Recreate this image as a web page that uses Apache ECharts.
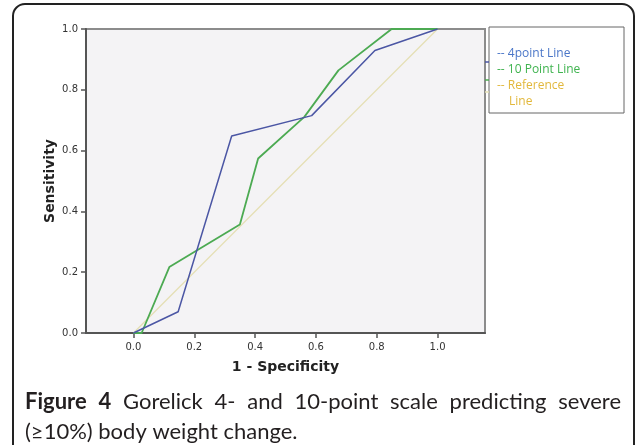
<!DOCTYPE html>
<html><head><meta charset="utf-8">
<script src="https://cdn.jsdelivr.net/npm/echarts@6/dist/echarts.min.js"></script>
<style>html,body{margin:0;padding:0;background:#fff}#c{width:635px;height:445px}</style>
</head><body><div id="c"></div><script>
// ---- data ----
const xTicks = [0.0, 0.2, 0.4, 0.6, 0.8, 1.0];
const yTicks = [0.0, 0.2, 0.4, 0.6, 0.8, 1.0];
const seriesNames = ['4point Line', '10 Point Line', 'Reference Line'];
const fourPointFPR = [0.0, 0.147, 0.323, 0.586, 0.794, 1.0];
const fourPointTPR = [0.0, 0.070, 0.648, 0.715, 0.929, 1.0];
const tenPointFPR = [0.0, 0.027, 0.118, 0.350, 0.410, 0.562, 0.674, 0.849, 1.0];
const tenPointTPR = [0.0, 0.0, 0.217, 0.357, 0.574, 0.711, 0.864, 1.0, 1.0];
const refFPR = [0.0, 1.0];
const refTPR = [0.0, 1.0];
const captionBold = 'Figure 4';
const captionLine1 = 'Gorelick 4- and 10-point scale predicting severe';
const captionLine2 = '(\u226510%) body weight change.';

const zip = (a, b) => a.map((v, i) => [v, b[i]]);
const lineColors = ['#4b56a4', '#4caa52', '#e4dfb4'];
const legendColors = ['#4a76c8', '#3fb34f', '#e2b83c'];

const chart = echarts.init(document.getElementById('c'), null, {renderer: 'canvas'});

// caption justification
const capFont = 22, capFamily = 'Lato';
const ctx = document.createElement('canvas').getContext('2d');
function fontOf(bold) { return (bold ? 'bold ' : '') + capFont + 'px ' + capFamily; }
function tw(t, bold) { ctx.font = fontOf(bold); return ctx.measureText(t).width; }
const words = captionBold.split(' ').map(t => ({t, b: true})).concat(captionLine1.split(' ').map(t => ({t, b: false})));
const capLeft = 25, capRight = 621;
const totalW = words.reduce((s, w) => s + tw(w.t, w.b), 0);
const gap = (capRight - capLeft - totalW) / (words.length - 1);
let cx = capLeft;
const capEls = [];
words.forEach(w => {
  capEls.push({type: 'text', x: cx, y: 402, style: {text: w.t, font: fontOf(w.b), fill: '#231f20', textVerticalAlign: 'middle'}});
  cx += tw(w.t, w.b) + gap;
});
capEls.push({type: 'text', x: capLeft, y: 432, style: {text: captionLine2, font: fontOf(false), fill: '#231f20', textVerticalAlign: 'middle'}});

const legFont = '12px "Open Sans", "Liberation Sans", sans-serif';
const legendEls = [
  {type: 'rect', shape: {x: 489, y: 27, width: 135, height: 86}, style: {fill: '#fff', stroke: '#666', lineWidth: 1}},
  {type: 'text', x: 497, y: 54, style: {text: '-- ' + seriesNames[0], font: legFont, fill: legendColors[0], textVerticalAlign: 'middle'}},
  {type: 'text', x: 497, y: 70, style: {text: '-- ' + seriesNames[1], font: legFont, fill: legendColors[1], textVerticalAlign: 'middle'}},
  {type: 'text', x: 497, y: 86, style: {text: '-- ' + seriesNames[2].split(' ')[0], font: legFont, fill: legendColors[2], textVerticalAlign: 'middle'}},
  {type: 'text', x: 509, y: 102, style: {text: seriesNames[2].split(' ')[1], font: legFont, fill: legendColors[2], textVerticalAlign: 'middle'}},
  {type: 'line', shape: {x1: 485, y1: 62, x2: 489, y2: 62}, style: {stroke: lineColors[0], lineWidth: 1.5}},
  {type: 'line', shape: {x1: 485, y1: 80, x2: 489, y2: 80}, style: {stroke: lineColors[1], lineWidth: 1.5}},
  {type: 'line', shape: {x1: 485, y1: 92, x2: 489, y2: 92}, style: {stroke: lineColors[2], lineWidth: 1.5}}
];

const axisLabelStyle = {fontFamily: 'DejaVu Sans', fontSize: 10, color: '#333'};

chart.setOption({
  animation: false,
  backgroundColor: '#fff',
  grid: {left: 86, top: 29, width: 399, height: 304, show: true, backgroundColor: '#f4f3f5', borderColor: '#8c8c8c', borderWidth: 2},
  xAxis: {
    type: 'value', min: -0.156, max: 1.156,
    name: '1 - Specificity', nameLocation: 'middle', nameGap: 27,
    nameTextStyle: {fontFamily: 'DejaVu Sans', fontWeight: 'bold', fontSize: 14, color: '#222'},
    axisLine: {show: true, onZero: false, lineStyle: {color: '#555', width: 2}},
    axisTick: {show: true, length: 5, customValues: xTicks, lineStyle: {color: '#555', width: 1.5}},
    axisLabel: Object.assign({customValues: xTicks, margin: 9, formatter: v => v.toFixed(1)}, axisLabelStyle),
    splitLine: {show: false}
  },
  yAxis: {
    type: 'value', min: 0, max: 1, interval: 0.2,
    name: 'Sensitivity', nameLocation: 'middle', nameGap: 29, nameMoveOverlap: false,
    nameTextStyle: {fontFamily: 'DejaVu Sans', fontWeight: 'bold', fontSize: 14, color: '#222'},
    axisLine: {show: true, onZero: false, lineStyle: {color: '#555', width: 2}},
    axisTick: {show: true, length: 5, lineStyle: {color: '#555', width: 1.5}},
    axisLabel: Object.assign({margin: 8, formatter: v => v.toFixed(1)}, axisLabelStyle),
    splitLine: {show: false}
  },
  series: [
    {name: seriesNames[2], type: 'line', data: zip(refFPR, refTPR), showSymbol: false, lineStyle: {color: lineColors[2], width: 1.2}, z: 1},
    {name: seriesNames[1], type: 'line', data: zip(tenPointFPR, tenPointTPR), showSymbol: false, lineStyle: {color: lineColors[1], width: 1.8}, z: 2},
    {name: seriesNames[0], type: 'line', data: zip(fourPointFPR, fourPointTPR), showSymbol: false, lineStyle: {color: lineColors[0], width: 1.5}, z: 3}
  ],
  graphic: [
    {type: 'rect', shape: {x: 13, y: 4, width: 621, height: 470, r: 12}, style: {fill: 'none', stroke: '#222', lineWidth: 2}, z: -1},
    ...legendEls,
    ...capEls
  ]
});
</script></body></html>
